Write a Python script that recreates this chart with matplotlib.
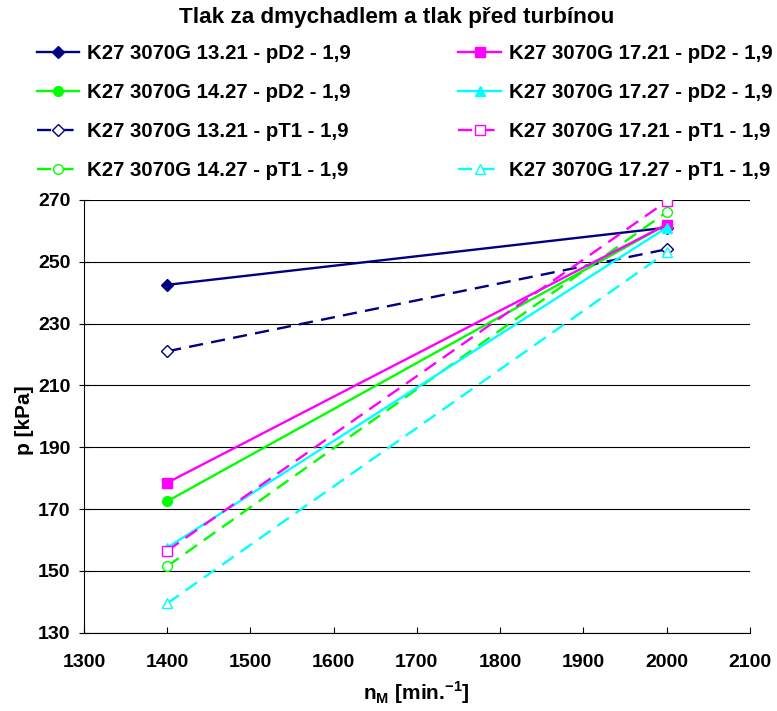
import matplotlib
matplotlib.use("Agg")
import matplotlib.pyplot as plt

plt.rcParams['font.family'] = ['Liberation Sans', 'DejaVu Sans']
plt.rcParams['font.weight'] = 'bold'
plt.rcParams['mathtext.fontset'] = 'custom'
plt.rcParams['mathtext.rm'] = 'Liberation Sans:bold'
plt.rcParams['mathtext.bf'] = 'Liberation Sans:bold'

speed = [1400, 2000]

labels = [
    "K27 3070G 13.21 - pD2 - 1,9",
    "K27 3070G 14.27 - pD2 - 1,9",
    "K27 3070G 13.21 - pT1 - 1,9",
    "K27 3070G 14.27 - pT1 - 1,9",
    "K27 3070G 17.21 - pD2 - 1,9",
    "K27 3070G 17.27 - pD2 - 1,9",
    "K27 3070G 17.21 - pT1 - 1,9",
    "K27 3070G 17.27 - pT1 - 1,9",
]

p_1321_pD2 = [242.5, 261.0]
p_1427_pD2 = [172.5, 262.0]
p_1321_pT1 = [221.0, 254.0]
p_1427_pT1 = [151.5, 266.0]
p_1721_pD2 = [178.5, 262.0]
p_1727_pD2 = [157.5, 261.0]
p_1721_pT1 = [156.5, 269.5]
p_1727_pT1 = [139.5, 253.0]

series = [p_1321_pD2, p_1427_pD2, p_1321_pT1, p_1427_pT1,
          p_1721_pD2, p_1727_pD2, p_1721_pT1, p_1727_pT1]

navy, green, magenta, cyan = '#000080', '#00ff00', '#ff00ff', '#00ffff'
dash = (0, (6, 3.5))
styles = [
    dict(color=navy, ls='-', marker='D', mfc=navy, ms=6),
    dict(color=green, ls='-', marker='o', mfc=green, ms=7),
    dict(color=navy, ls=dash, marker='D', mfc='white', ms=6),
    dict(color=green, ls=dash, marker='o', mfc='white', ms=7),
    dict(color=magenta, ls='-', marker='s', mfc=magenta, ms=7),
    dict(color=cyan, ls='-', marker='^', mfc=cyan, ms=7),
    dict(color=magenta, ls=dash, marker='s', mfc='white', ms=7),
    dict(color=cyan, ls=dash, marker='^', mfc='white', ms=7),
]

fig = plt.figure(figsize=(7.77, 7.11), dpi=100)
ax = fig.add_axes([0.108, 0.11, 0.857, 0.609])

handles = []
for vals, lab, st in zip(series, labels, styles):
    h, = ax.plot(speed, vals, lw=1.7, mew=1.0, mec=st['color'], label=lab, **st)
    handles.append(h)

ax.set_xlim(1300, 2100)
ax.set_ylim(130, 270)
ax.set_xticks(range(1300, 2101, 100))
ax.set_yticks(range(130, 271, 20))
ax.yaxis.grid(True, color='black', lw=0.8)
ax.set_axisbelow(True)
for s in ('top', 'right'):
    ax.spines[s].set_visible(False)
for s in ('left', 'bottom'):
    ax.spines[s].set_linewidth(0.8)
ax.tick_params(axis='x', direction='in', length=4, width=0.8, labelsize=14, pad=15)
ax.tick_params(axis='y', direction='inout', length=7, width=0.8, labelsize=14, pad=6)
for t in ax.get_xticklabels() + ax.get_yticklabels():
    t.set_fontweight('bold')

ax.set_ylabel("p [kPa]", fontsize=15, fontweight='bold', labelpad=1)
ax.yaxis.set_label_coords(-0.075, 0.49)
ax.set_xlabel(r"n$_{\mathrm{M}}$ [min.$^{\mathrm{-1}}$]", fontsize=15, fontweight='bold', labelpad=6)

fig.text(0.51, 0.975, "Tlak za dmychadlem a tlak před turbínou", ha='center', va='center',
         fontsize=16.2, fontweight='bold')

fig.legend(handles=handles, ncol=2, loc='upper left', bbox_to_anchor=(0.047, 0.938),
           frameon=False, prop=dict(size=14.7, weight='bold'), handlelength=2.1,
           handletextpad=0.35, columnspacing=5.3, labelspacing=0.98, borderpad=0,
           borderaxespad=0)

fig.savefig("out.png", dpi=100)
